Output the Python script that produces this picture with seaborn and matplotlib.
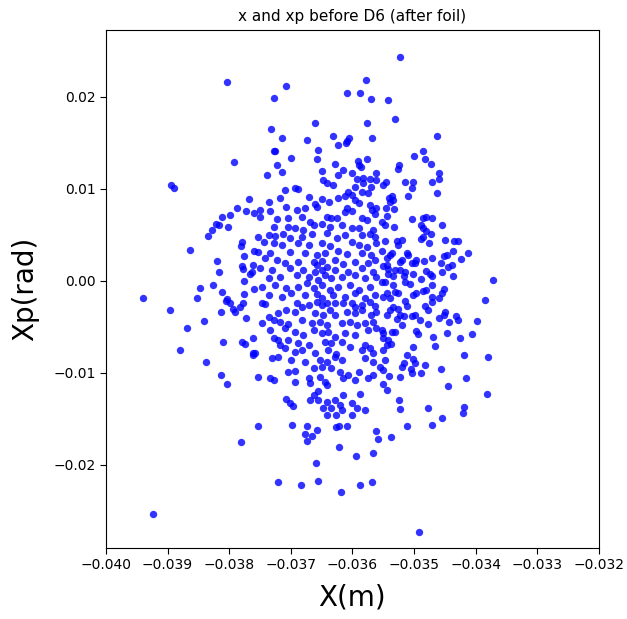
import numpy as np
import pandas as pd
import matplotlib
matplotlib.use("Agg")
import matplotlib.pyplot as plt
import seaborn as sns
from matplotlib.ticker import FuncFormatter

# phase space points, x in mm, xp in mrad
x_mm = [
    # sparse outer points
    -38.04, -37.92, -39.24, -38.94, -38.89, -39.40, -34.92, -33.71,
    -37.07, -37.27, -35.78, -36.08, -35.87, -35.70, -36.61, -35.76, -37.32, -37.15,
    -36.73, -36.31, -36.05, -36.09, -36.11, -36.23, -35.68, -37.28, -37.26, -36.56,
    -36.99, -36.57, -37.23, -35.76, -35.91, -35.89, -35.86, -36.28, -36.16, -36.50,
    -37.15, -37.38, -36.00, -35.62, -36.23,
    -35.23, -35.42, -35.31, -34.63, -34.85, -35.00, -34.82, -35.24, -35.26, -34.73, -34.60,
    # left side
    -37.68, -37.88, -37.73, -37.60, -37.99, -38.11, -38.21, -38.16, -38.02, -38.28,
    -38.34, -37.79, -37.81, -38.64, -37.76, -37.60, -38.19, -37.79, -37.77, -37.62,
    -38.17, -37.66, -37.63, -37.76, -38.26, -38.47, -38.12, -37.60, -37.76, -38.53, -38.04,
    -38.96, -38.05, -37.99, -37.78, -37.82, -37.93, -37.90, -38.14, -37.72, -38.41,
    -38.68, -37.62, -38.10, -37.79, -37.74, -38.80, -37.61, -37.62, -38.38, -38.13, -38.04,
    # bottom
    -37.80, -37.53, -36.98, -36.74, -36.57, -36.77, -36.65, -36.74, -36.27, -36.21,
    -36.09, -35.62, -35.59, -36.21, -35.94, -35.67, -36.59, -37.20, -36.83, -36.56,
    -36.18, -35.87, -35.68, -35.38, -35.12, -34.71,
    # right side, upper half
    -35.51, -35.45, -35.15, -35.01, -35.04, -34.70, -34.59, -34.63, -35.10,
    -35.36, -35.34, -35.39, -35.40, -35.45, -35.32, -35.43, -35.52, -35.47, -35.32,
    -35.04, -34.86, -34.80, -34.71, -34.88, -34.85, -34.55, -34.80, -34.73, -34.85,
    -34.89, -34.75, -34.50, -34.35, -34.29, -34.37, -34.12, -34.47, -34.51, -34.24,
    -34.71, -34.84, -34.56, -34.39, -34.44, -34.55, -34.80, -34.74, -34.70, -34.36,
    -34.89, -34.71, -34.86, -34.80, -34.52, -34.55, -34.71, -34.60,
    -35.20, -35.28, -35.26, -35.47, -35.52, -35.35, -35.39, -35.44, -35.12, -35.09,
    -35.20, -35.23, -35.04, -34.98, -34.96, -35.50, -35.44, -35.42, -35.31, -35.23,
    -35.15, -35.42, -35.34, -35.17, -35.01, -35.15, -35.06, -35.52, -35.47, -35.34,
    -35.31, -35.26, -35.44, -35.01, -34.96, -35.51, -35.39,
    # right side, lower half
    -33.85, -33.98, -34.31, -34.28, -34.43, -34.60, -34.50, -34.51, -34.71, -34.82,
    -34.78, -34.77, -34.91, -34.98, -35.03, -34.06, -34.47, -34.26, -34.69, -34.96,
    -34.94, -34.66, -35.01, -35.19, -35.26, -35.12, -35.15, -35.22, -35.16, -35.28,
    -35.34, -35.39, -35.43, -35.52, -35.50, -35.36, -35.31, -35.50, -35.42, -35.38,
    -35.43, -35.50, -34.18, -33.80, -35.11, -35.01, -34.99, -35.17, -35.19, -34.82,
    -35.47, -35.55, -35.51, -34.56, -35.05, -35.03, -34.89, -35.40, -35.23, -34.16,
    -35.50, -35.44, -34.44, -33.82, -35.24, -35.22, -34.77, -34.19, -34.21, -34.54,
    # dense core, upper part
    -36.47, -35.93, -35.82, -35.71, -35.62, -36.42, -36.93, -36.88, -37.10, -36.31,
    -35.82, -35.96, -35.69, -36.07, -36.71, -36.50, -36.12, -36.01, -35.85, -35.74,
    -37.17, -36.23, -37.36, -37.07, -36.61, -36.58, -36.38, -35.96, -35.90, -35.71,
    -35.61, -37.50, -37.34, -36.90, -36.77, -36.09, -36.12, -36.01, -35.68, -35.63,
    -37.50, -37.23, -37.04, -36.82, -36.69, -36.42, -36.34, -36.25, -35.85, -35.77,
    -37.28, -37.04, -36.93, -36.80, -36.63, -36.50, -36.36, -36.17, -36.01, -35.90,
    -35.66, -37.53, -37.36, -37.26, -37.12, -37.01, -36.82, -36.66, -36.42, -36.25,
    -36.12, -35.85, -35.71, -35.63, -37.44, -37.28, -37.15, -36.88, -36.71, -36.50,
    -36.36, -36.01, -35.90, -35.77, -35.61, -37.53, -37.34, -37.01, -36.77, -36.58,
    -36.44, -36.23, -36.09, -35.85, -35.69, -37.42, -37.23, -37.09, -36.88, -36.63,
    -36.50, -36.28, -36.15, -35.96, -35.74, -35.63, -37.50, -37.31, -37.01, -36.80,
    -36.58, -36.61, -36.50, -36.42, -36.28, -36.07, -35.85, -35.66, -37.36, -37.17,
    -36.90, -36.71, -36.55, -36.44, -36.34, -36.17, -35.96, -35.80, -35.61, -37.47,
    -37.26, -37.07, -36.88, -36.74, -36.63, -36.50, -36.36, -36.23, -36.04, -35.90,
    -35.71, -37.36, -37.15, -36.99, -36.77, -36.58, -36.50, -36.31, -36.12, -35.96,
    -35.80, -35.63,
    # dense core, lower part
    -37.47, -37.42, -36.90, -36.82, -36.71, -36.58, -36.50, -36.42, -36.28, -36.15,
    -36.01, -35.96, -35.85, -35.71, -35.63, -37.36, -37.20, -37.07, -36.93, -36.61,
    -36.47, -36.36, -36.28, -36.09, -35.96, -35.85, -35.69, -35.61, -37.47, -37.28,
    -37.17, -37.04, -36.82, -36.66, -36.52, -36.42, -36.17, -36.04, -35.93, -35.80,
    -35.66, -37.34, -37.09, -36.93, -36.80, -36.63, -36.50, -36.39, -36.28, -36.12,
    -35.96, -35.74, -35.61, -37.28, -37.20, -37.04, -37.17, -37.09, -36.88, -36.71,
    -36.44, -36.34, -36.17, -36.04, -35.80, -36.93, -36.82, -36.61, -36.39, -36.26,
    -35.85, -35.71, -35.66, -37.58, -37.31, -37.20, -36.99, -36.77, -36.52, -36.42,
    -36.28, -36.17, -35.80, -35.66, -37.04, -36.93, -36.63, -36.50, -36.34, -36.20,
    -36.07, -35.90, -35.66, -37.53, -37.34, -37.28, -36.93, -36.71, -36.69, -36.52,
    -36.44, -36.42, -36.15, -35.96, -35.74, -35.88, -36.55, -36.15, -36.63, -37.07,
    -37.01, -36.96, -36.69, -36.55, -36.42, -36.28, -36.20, -36.01, -35.93, -35.80,
    -36.47, -36.34, -36.17, -36.42, -36.26, -36.01,
]

xp_mrad = [
    # sparse outer points
    21.6, 12.9, -25.3, 10.4, 10.1, -1.9, -27.3, 0.1,
    21.2, 19.9, 21.8, 20.4, 20.4, 19.8, 17.2, 17.2, 16.5, 15.5,
    15.3, 15.8, 15.5, 15.2, 15.0, 14.8, 15.5, 14.1, 14.1, 14.2,
    13.4, 13.3, 12.6, 13.2, 13.0, 12.6, 12.4, 12.7, 12.1, 11.9,
    11.8, 11.5, 11.7, 11.7, 11.5,
    24.3, 19.7, 17.6, 15.7, 14.1, 13.6, 13.3, 12.6, 12.2, 12.7, 11.7,
    # left side
    8.9, 7.9, 7.6, 7.4, 7.2, 6.9, 6.2, 6.1, 5.9, 5.5,
    4.9, 4.2, 3.8, 3.4, 2.7, 3.3, 2.2, 1.6, 1.3, 1.7,
    1.0, 0.8, 1.0, 0.0, -0.4, -0.8, -1.2, -0.9, -1.4, -1.9, -2.0,
    -3.2, -2.2, -2.4, -2.4, -2.8, -3.0, -3.4, -3.4, -4.0, -4.3,
    -5.1, -6.2, -6.6, -6.6, -6.8, -7.5, -7.8, -8.0, -8.8, -10.2, -11.2,
    # bottom
    -17.5, -15.8, -15.7, -15.8, -16.2, -16.6, -16.8, -17.4, -15.9, -15.8,
    -15.8, -16.3, -17.2, -18.0, -19.0, -18.7, -19.8, -21.9, -22.2, -21.7,
    -22.9, -22.2, -21.9, -17.0, -15.8, -15.7,
    # right side, upper half
    10.4, 10.7, 10.7, 10.8, 10.1, 10.8, 11.1, 9.6, 9.2,
    9.2, 8.8, 8.6, 9.0, 7.9, 7.8, 7.1, 6.4, 6.1, 5.9,
    6.7, 6.8, 6.9, 6.8, 6.1, 5.7, 6.1, 5.4, 5.1, 4.8,
    4.6, 4.1, 4.4, 4.3, 4.3, 3.3, 3.0, 2.8, 2.7, 2.4,
    2.5, 2.2, 2.0, 1.7, 1.5, 1.0, 1.1, 0.7, 0.5, 0.5,
    0.2, -0.4, -1.1, -1.0, -0.9, -1.3, -1.7, -1.9,
    4.5, 4.3, 3.9, 4.3, 3.3, 3.0, 2.8, 2.5, 3.0, 2.8,
    2.3, 2.1, 2.0, 2.0, 2.3, 1.6, 1.7, 1.3, 1.2, 1.2,
    1.0, 0.7, 0.5, 0.5, 0.7, -0.1, -0.3, -0.1, -0.1, -0.4,
    -1.2, -1.3, -1.3, -1.5, -1.3, -1.7, -1.8,
    # right side, lower half
    -2.1, -4.3, -3.8, -4.2, -4.5, -4.0, -3.4, -3.7, -2.3, -2.7,
    -3.2, -4.7, -4.2, -3.7, -3.8, -5.8, -5.7, -6.2, -6.1, -5.4,
    -5.8, -7.1, -7.2, -4.8, -3.0, -2.7, -2.2, -3.7, -3.8, -4.1,
    -2.8, -3.2, -3.7, -5.3, -5.7, -5.5, -5.5, -6.2, -6.4, -6.8,
    -7.0, -7.5, -8.1, -8.3, -8.1, -8.5, -8.9, -8.9, -9.3, -9.1,
    -8.6, -9.3, -9.7, -9.6, -9.6, -10.0, -10.0, -10.3, -10.4, -10.6,
    -11.2, -11.8, -11.4, -12.3, -12.9, -13.9, -13.8, -13.7, -14.3, -14.9,
    # dense core, upper part
    10.98, 11.09, 11.23, 11.09, 10.98, 10.61, 10.14, 10.00, 9.89, 10.43,
    10.61, 10.25, 10.25, 9.71, 9.17, 8.91, 9.27, 9.35, 9.71, 9.53,
    9.06, 8.98, 8.55, 8.08, 8.33, 8.08, 8.62, 8.80, 8.44, 8.26,
    7.97, 7.72, 7.61, 7.72, 7.90, 7.90, 7.46, 7.61, 7.72, 7.24,
    6.99, 6.74, 6.81, 6.99, 6.45, 6.99, 6.88, 6.81, 6.81, 6.63,
    5.90, 5.90, 5.72, 5.54, 6.09, 6.16, 5.90, 6.09, 5.72, 5.72,
    5.54, 4.82, 5.00, 4.93, 5.07, 4.64, 4.82, 5.07, 5.18, 4.64,
    5.00, 5.00, 5.07, 4.82, 4.27, 4.09, 3.91, 4.09, 3.91, 4.09,
    3.84, 4.27, 3.91, 3.73, 4.09, 3.19, 3.01, 3.19, 3.01, 2.82,
    3.01, 3.26, 2.90, 3.01, 2.82, 2.46, 2.28, 1.92, 2.10, 2.03,
    2.17, 2.28, 1.81, 2.10, 1.92, 2.28, 1.38, 1.19, 1.38, 1.19,
    1.74, 1.01, 1.19, 1.56, 1.19, 1.01, 1.38, 0.94, 0.29, 0.47,
    0.65, 0.47, 0.11, 0.65, 0.29, 0.47, 0.65, 0.29, 0.47, -0.62,
    -0.44, -0.80, -0.62, -0.26, -0.80, -0.44, -0.98, -0.62, -0.44, -0.98,
    -0.62, -1.52, -1.70, -1.34, -1.52, -1.45, -1.89, -1.52, -1.70, -1.34,
    -1.81, -1.52,
    # dense core, lower part
    -2.36, -2.50, -2.43, -2.79, -2.61, -2.25, -2.61, -2.36, -2.43, -2.36,
    -2.43, -2.79, -2.61, -2.25, -2.72, -3.88, -3.52, -3.16, -3.34, -3.52,
    -3.70, -3.16, -3.70, -3.34, -3.52, -3.16, -3.70, -3.34, -4.61, -4.24,
    -4.42, -4.68, -4.24, -4.61, -4.42, -4.79, -4.61, -4.42, -4.79, -4.61,
    -4.42, -5.33, -5.15, -5.51, -5.87, -5.33, -5.69, -5.51, -6.05, -5.69,
    -5.87, -5.33, -5.15, -6.24, -6.42, -6.42, -6.96, -7.32, -6.78, -6.96,
    -6.60, -6.78, -6.60, -7.14, -6.96, -7.68, -7.50, -7.79, -7.50, -7.94,
    -7.50, -7.32, -7.87, -7.87, -8.41, -8.23, -8.59, -8.77, -8.59, -8.77,
    -8.30, -8.59, -8.41, -8.77, -9.86, -9.75, -9.50, -9.31, -9.50, -9.86,
    -10.22, -9.86, -10.22, -10.47, -10.58, -10.76, -10.94, -10.58, -11.13, -10.40,
    -10.94, -11.31, -10.58, -10.76, -10.58, -12.29, -11.92, -12.39, -12.39, -12.83,
    -13.23, -13.59, -12.94, -12.94, -13.12, -12.94, -13.48, -13.30, -13.84, -14.03,
    -13.84, -13.84, -14.03, -14.57, -14.57, -14.57,
]

df = pd.DataFrame({"x": np.array(x_mm) * 1e-3, "xp": np.array(xp_mrad) * 1e-3})

sns.set_style("ticks")

fig = plt.figure(figsize=(6.27, 6.19), dpi=100)
ax = fig.add_axes([0.169, 0.115, 0.786, 0.837])

sns.scatterplot(data=df, x="x", y="xp", color="#0000ff", s=28, alpha=0.8,
                linewidth=0, ax=ax)

ax.set_xlim(-0.040, -0.032)
ax.set_ylim(-0.0290, 0.0273)
ax.set_xticks(np.arange(-0.040, -0.0315, 0.001))
ax.set_yticks([-0.02, -0.01, 0.0, 0.01, 0.02])
ax.xaxis.set_major_formatter(FuncFormatter(lambda v, p: f"{v:.3f}".replace("-", "\u2212")))
ax.yaxis.set_major_formatter(FuncFormatter(lambda v, p: f"{v:.2f}".replace("-", "\u2212")))
ax.tick_params(labelsize=10, length=4, width=0.8, color="black", labelcolor="black")
for s in ax.spines.values():
    s.set_color("black")
    s.set_linewidth(0.8)

ax.set_title("x and xp before D6 (after foil)", fontsize=11, color="black")
ax.set_xlabel("X(m)", fontsize=20, labelpad=8, color="black")
ax.set_ylabel("Xp(rad)", fontsize=20, labelpad=10, color="black")

fig.savefig("out.png", dpi=100)
